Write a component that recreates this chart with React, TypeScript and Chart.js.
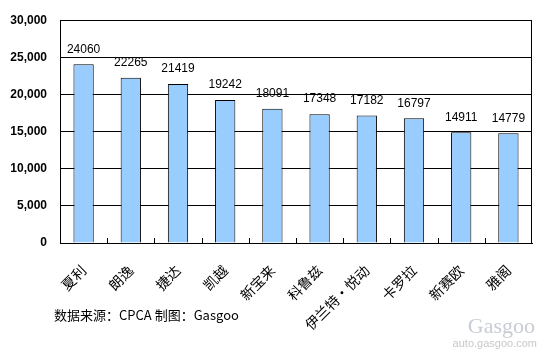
import React, { useEffect, useRef } from "react";
import { Chart, registerables } from "chart.js";

Chart.register(...registerables);

const categories = ["夏利", "朗逸", "捷达", "凯越", "新宝来", "科鲁兹", "伊兰特•悦动", "卡罗拉", "新赛欧", "雅阁"];
const sales = [24060, 22265, 21419, 19242, 18091, 17348, 17182, 16797, 14911, 14779];
const yMin = 0;
const yMax = 30000;
const yStep = 5000;
const sourceNote = "数据来源：CPCA 制图：Gasgoo";
const watermarkBrand = "Gasgoo";
const watermarkUrl = "auto.gasgoo.com";

const valueLabels = {
  id: "valueLabels",
  afterDatasetsDraw(chart: any) {
    const ctx = chart.ctx;
    const meta = chart.getDatasetMeta(0);
    ctx.save();
    ctx.font = "12px Arial, 'Liberation Sans', sans-serif";
    ctx.fillStyle = "#000";
    ctx.textAlign = "center";
    ctx.textBaseline = "middle";
    meta.data.forEach((bar: any, i: number) => {
      ctx.fillText(String(sales[i]), bar.x, bar.y - 15);
    });
    ctx.restore();
  },
};

const frameAndTicks = {
  id: "frameAndTicks",
  afterDraw(chart: any) {
    const ctx = chart.ctx;
    const area = chart.chartArea;
    const xs = chart.scales.x;
    ctx.save();
    ctx.strokeStyle = "#000";
    ctx.lineWidth = 1;
    ctx.strokeRect(Math.round(area.left) + 0.5, Math.round(area.top) + 0.5, Math.round(area.right - area.left) - 1, Math.round(area.bottom - area.top));
    const n = categories.length;
    for (let i = 1; i < n; i++) {
      const x = Math.round((xs.getPixelForTick(i - 1) + xs.getPixelForTick(i)) / 2) + 0.5;
      ctx.beginPath();
      ctx.moveTo(x, area.bottom);
      ctx.lineTo(x, area.bottom - 5);
      ctx.stroke();
    }
    // footnote
    ctx.fillStyle = "#000";
    ctx.font = "13px 'Noto Sans CJK SC', sans-serif";
    ctx.textAlign = "left";
    ctx.textBaseline = "middle";
    ctx.fillText(sourceNote, 54, 315);
    // watermark
    ctx.fillStyle = "#c8ccd4";
    ctx.font = "22px 'Liberation Serif', serif";
    ctx.textAlign = "right";
    ctx.fillText(watermarkBrand, 535, 327);
    ctx.fillStyle = "#c8c8c8";
    ctx.font = "11px Arial, 'Liberation Sans', sans-serif";
    ctx.fillText(watermarkUrl, 537, 344);
    ctx.restore();
  },
};

export default function App() {
  const ref = useRef<HTMLCanvasElement | null>(null);
  useEffect(() => {
    if (!ref.current) return;
    const chart = new Chart(ref.current, {
      type: "bar",
      data: {
        labels: categories,
        datasets: [
          {
            data: sales,
            backgroundColor: "#99CCFF",
            borderColor: "#000",
            borderWidth: 1,
            barPercentage: 0.43,
            categoryPercentage: 1,
          },
        ],
      },
      options: {
        animation: false,
        responsive: false,
        layout: { padding: { top: 18, right: 10, left: 0, bottom: 0 } },
        plugins: { legend: { display: false }, tooltip: { enabled: false } },
        scales: {
          x: {
            grid: { display: false },
            border: { display: true, color: "#000" },
            ticks: {
              color: "#000",
              font: { family: "'Noto Sans CJK SC', sans-serif", size: 14 },
              minRotation: 45,
              maxRotation: 45,
              padding: 11,
            },
            afterFit(scale: any) {
              scale.height = 108;
            },
          },
          y: {
            min: yMin,
            max: yMax,
            grid: { color: "#000", drawTicks: false },
            border: { display: true, color: "#000" },
            ticks: {
              stepSize: yStep,
              color: "#000",
              padding: 13,
              font: { family: "Arial, 'Liberation Sans', sans-serif", size: 12, weight: "bold" },
              callback: (v: any) => Number(v).toLocaleString("en-US"),
            },
            afterFit(scale: any) {
              scale.width = 60;
            },
          },
        },
      },
      plugins: [valueLabels, frameAndTicks],
    });
    return () => chart.destroy();
  }, []);
  return (
    <div style={{ position: "fixed", left: 0, top: 0, width: 542, height: 351, background: "#fff" }}>
      <canvas ref={ref} width={542} height={351} />
    </div>
  );
}
